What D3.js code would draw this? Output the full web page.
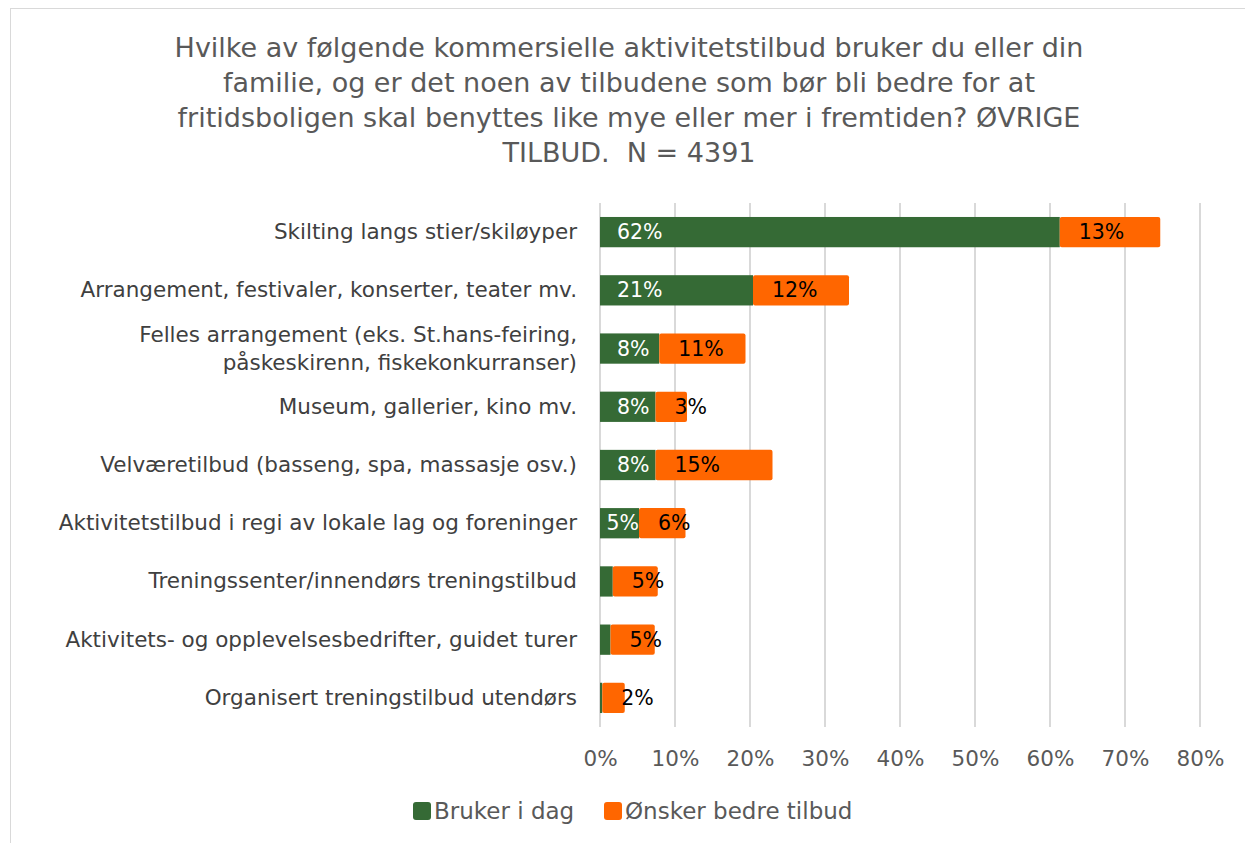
<!DOCTYPE html>
<html>
<head>
<meta charset="UTF-8">
<title>Kommersielle aktivitetstilbud</title>
<script src="https://d3js.org/d3.v7.min.js"></script>
<style>
  body { margin: 0; background: #fff; }
  svg { font-family: "DejaVu Sans", sans-serif; }
  .title { white-space: pre; }
</style>
</head>
<body>
<svg width="1245" height="843"></svg>
<script>
// chart data
var categories = [
  "Skilting langs stier/skiløyper",
  "Arrangement, festivaler, konserter, teater mv.",
  "Felles arrangement (eks. St.hans-feiring,|påskeskirenn, fiskekonkurranser)",
  "Museum, gallerier, kino mv.",
  "Velværetilbud (basseng, spa, massasje osv.)",
  "Aktivitetstilbud i regi av lokale lag og foreninger",
  "Treningssenter/innendørs treningstilbud",
  "Aktivitets- og opplevelsesbedrifter, guidet turer",
  "Organisert treningstilbud utendørs"
];
var brukerIDag = [61.3, 20.4, 7.9, 7.4, 7.4, 5.2, 1.7, 1.4, 0.3];
var onskerBedre = [13.4, 12.8, 11.5, 4.2, 15.6, 6.2, 6.0, 5.9, 3.0];
var brukerLabels = ["62%", "21%", "8%", "8%", "8%", "5%", "", "", ""];
var onskerLabels = ["13%", "12%", "11%", "3%", "15%", "6%", "5%", "5%", "2%"];
var ticks = [0, 10, 20, 30, 40, 50, 60, 70, 80];
var seriesNames = ["Bruker i dag", "Ønsker bedre tilbud"];
var titleLines = [
  "Hvilke av følgende kommersielle aktivitetstilbud bruker du eller din",
  "familie, og er det noen av tilbudene som bør bli bedre for at",
  "fritidsboligen skal benyttes like mye eller mer i fremtiden? ØVRIGE",
  "TILBUD.  N = 4391"
];

var green = "#356a35", orange = "#ff6600";

var svg = d3.select("svg");

// chart frame
svg.append("rect")
  .attr("x", 10.5).attr("y", 8.5)
  .attr("width", 1260).attr("height", 860)
  .attr("fill", "none").attr("stroke", "#d9d9d9");

// title
svg.append("g").selectAll("text")
  .data(titleLines)
  .enter().append("text")
  .attr("class", "title")
  .attr("x", 629)
  .attr("y", function(d, i) { return 57 + i * 35; })
  .attr("text-anchor", "middle")
  .attr("font-size", 27)
  .attr("fill", "#595959")
  .text(function(d) { return d; });

var x = d3.scaleLinear().domain([0, 80]).range([600, 1200]);
var y = d3.scaleBand().domain(d3.range(categories.length))
  .range([203, 727]).paddingInner(0.48).paddingOuter(0.24);

// gridlines
svg.append("g").selectAll("line")
  .data(ticks)
  .enter().append("line")
  .attr("x1", function(d) { return x(d); })
  .attr("x2", function(d) { return x(d); })
  .attr("y1", 203).attr("y2", 727)
  .attr("stroke", "#d9d9d9").attr("stroke-width", 2);

// x axis labels
var xAxis = d3.axisBottom(x).tickValues(ticks)
  .tickFormat(function(d) { return d + "%"; })
  .tickSize(0).tickPadding(0);
var gx = svg.append("g").attr("transform", "translate(0,766)").call(xAxis);
gx.select(".domain").remove();
gx.selectAll("text")
  .attr("font-family", "DejaVu Sans, sans-serif")
  .attr("font-size", 21.5).attr("fill", "#595959").attr("dy", 0);

// category labels
var cat = svg.append("g").selectAll("text")
  .data(categories)
  .enter().append("text")
  .attr("text-anchor", "end")
  .attr("font-size", 21.5)
  .attr("fill", "#404040");
cat.each(function(d, i) {
  var lines = d.split("|");
  var cy = y(i) + y.bandwidth() / 2;
  var t = d3.select(this);
  lines.forEach(function(l, j) {
    t.append("tspan")
      .attr("x", 577)
      .attr("y", cy + 7 + (j - (lines.length - 1) / 2) * 28)
      .text(l);
  });
});

// bars
var rows = svg.append("g").selectAll("g")
  .data(categories.map(function(c, i) { return i; }))
  .enter().append("g");

rows.append("rect")
  .attr("x", x(0))
  .attr("y", function(i) { return y(i); })
  .attr("width", function(i) { return x(brukerIDag[i]) - x(0); })
  .attr("height", y.bandwidth())
  .attr("fill", green);

rows.append("rect")
  .attr("x", function(i) { return x(brukerIDag[i]); })
  .attr("y", function(i) { return y(i); })
  .attr("width", function(i) { return x(brukerIDag[i] + onskerBedre[i]) - x(brukerIDag[i]); })
  .attr("height", y.bandwidth())
  .attr("rx", 2)
  .attr("fill", orange);

// data labels
rows.append("text")
  .attr("y", function(i) { return y(i) + y.bandwidth() / 2 + 7; })
  .attr("font-size", 20.5)
  .attr("fill", "#fff")
  .text(function(i) { return brukerLabels[i]; })
  .attr("x", function(i) {
    var w = this.getComputedTextLength();
    return Math.min(x(0) + 17, x(brukerIDag[i]) - w);
  });

rows.append("text")
  .attr("x", function(i) { return x(brukerIDag[i]) + 19; })
  .attr("y", function(i) { return y(i) + y.bandwidth() / 2 + 7; })
  .attr("font-size", 20.5)
  .attr("fill", "#000")
  .text(function(i) { return onskerLabels[i]; });

// legend
var legend = svg.append("g").selectAll("g")
  .data(seriesNames)
  .enter().append("g")
  .attr("transform", function(d, i) { return "translate(" + (i === 0 ? 413 : 604) + ",802)"; });
legend.append("rect")
  .attr("width", 18).attr("height", 18).attr("rx", 3)
  .attr("fill", function(d, i) { return i === 0 ? green : orange; });
legend.append("text")
  .attr("x", 21).attr("y", 17)
  .attr("font-size", 23)
  .attr("fill", "#595959")
  .text(function(d) { return d; });
</script>
</body>
</html>
